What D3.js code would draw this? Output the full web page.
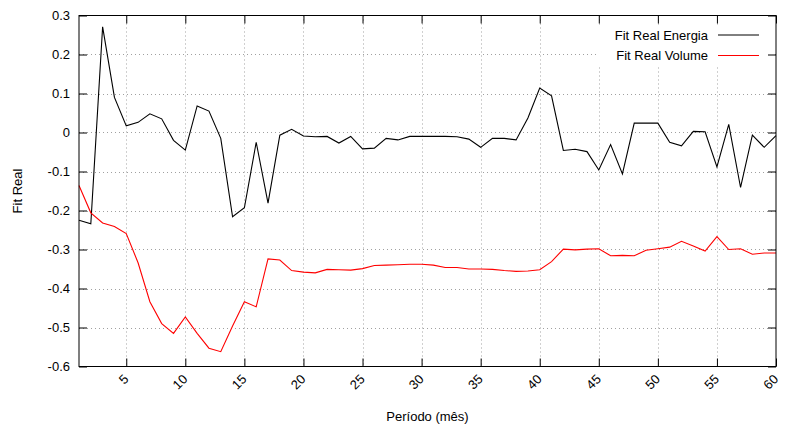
<!DOCTYPE html>
<html><head><meta charset="utf-8">
<script src="https://cdn.jsdelivr.net/npm/d3@7"></script>
<style>
body{margin:0;background:#fff;}
text{font-family:"Liberation Sans",Arial,Helvetica,sans-serif;font-size:13px;fill:#000;}
</style></head>
<body><svg id="c" width="787" height="428"></svg>
<script>
const periods = d3.range(1, 61);
const energia = [-0.225,-0.234,0.271,0.090,0.017,0.026,0.048,0.035,-0.020,-0.045,
 0.068,0.055,-0.015,-0.216,-0.193,-0.025,-0.181,-0.007,0.008,-0.009,
 -0.011,-0.010,-0.027,-0.010,-0.042,-0.040,-0.015,-0.019,-0.010,-0.010,
 -0.010,-0.010,-0.011,-0.017,-0.038,-0.015,-0.015,-0.019,0.037,0.114,
 0.094,-0.046,-0.043,-0.049,-0.096,-0.031,-0.106,0.024,0.024,0.024,
 -0.025,-0.034,0.003,0.002,-0.088,0.021,-0.141,-0.007,-0.038,-0.008];
const volume = [-0.136,-0.206,-0.232,-0.241,-0.259,-0.334,-0.434,-0.490,-0.515,-0.473,
 -0.515,-0.553,-0.562,-0.496,-0.434,-0.447,-0.324,-0.327,-0.354,-0.358,
 -0.360,-0.351,-0.352,-0.353,-0.349,-0.341,-0.340,-0.339,-0.338,-0.338,
 -0.340,-0.346,-0.346,-0.350,-0.350,-0.351,-0.354,-0.356,-0.355,-0.352,
 -0.331,-0.299,-0.301,-0.299,-0.298,-0.316,-0.315,-0.316,-0.302,-0.298,
 -0.294,-0.279,-0.291,-0.304,-0.267,-0.300,-0.298,-0.312,-0.309,-0.309];
const xTicks = [5,10,15,20,25,30,35,40,45,50,55,60];
const yTicks = [-0.6,-0.5,-0.4,-0.3,-0.2,-0.1,0,0.1,0.2,0.3];
const seriesNames = ["Fit Real Energia","Fit Real Volume"];
const seriesColors = ["#000000","#ff0000"];
const xTitle = "Período (mês)", yTitle = "Fit Real";

const L=79, R=776, T=15.5, B=366.5, TL=8;
const svg = d3.select("#c");
const x = d3.scaleLinear().domain([1,60]).range([L,R]);
const y = d3.scaleLinear().domain([-0.6,0.3]).range([B,T]);
const fmt = v => Math.abs(v)<1e-9 ? "0" : d3.format(".1f")(v).replace("\u2212","-");

// grid
const g = svg.append("g");
g.selectAll("line.gx").data(xTicks.filter(v=>v<60)).join("line")
 .attr("x1",d=>Math.round(x(d))+0.5).attr("x2",d=>Math.round(x(d))+0.5)
 .attr("y1",T).attr("y2",B).attr("stroke","#a0a0a0").attr("stroke-dasharray","1,3");
g.selectAll("line.gy").data(yTicks.filter(v=>v>-0.6&&v<0.3)).join("line")
 .attr("y1",d=>Math.round(y(d))+0.5).attr("y2",d=>Math.round(y(d))+0.5)
 .attr("x1",L).attr("x2",R).attr("stroke","#a0a0a0").attr("stroke-dasharray","1,3");

// legend background (opaque)
svg.append("rect").attr("x",598).attr("y",25).attr("width",R-598-1).attr("height",42).attr("fill","#fff");

// axes (ticks inward)
const axB = d3.axisBottom(x).tickValues(xTicks).tickSize(-TL).tickFormat("");
const axT = d3.axisTop(x).tickValues(xTicks).tickSize(-TL).tickFormat("");
const axL = d3.axisLeft(y).tickValues(yTicks).tickSize(-TL).tickFormat(fmt).tickPadding(TL+1);
const axR = d3.axisRight(y).tickValues(yTicks).tickSize(-TL).tickFormat("");
function style(s){ s.select(".domain").remove(); s.selectAll("line").attr("stroke","#000"); s.selectAll("text").attr("font-size",13).attr("font-family","Liberation Sans, Arial, sans-serif").attr("fill","#000"); }
svg.append("g").attr("transform",`translate(0,${B})`).call(axB).call(style);
svg.append("g").attr("transform",`translate(0,${T})`).call(axT).call(style);
svg.append("g").attr("transform",`translate(${L},0)`).call(axL).call(style);
svg.append("g").attr("transform",`translate(${R},0)`).call(axR).call(style);

// rotated x tick labels
svg.append("g").selectAll("text").data(xTicks).join("text")
 .attr("text-anchor","end")
 .attr("transform",d=>`translate(${x(d)+3},380) rotate(-45)`)
 .text(d=>d);

// lines
const line = d3.line().x((d,i)=>x(periods[i])).y(d=>y(d));
[energia, volume].forEach((s,k)=>{
  svg.append("path").datum(s).attr("d",line).attr("fill","none")
   .attr("stroke",seriesColors[k]).attr("stroke-width",1.1).attr("stroke-linejoin","miter");
});

// frame
svg.append("rect").attr("x",L).attr("y",T).attr("width",R-L).attr("height",B-T)
 .attr("fill","none").attr("stroke","#000").attr("stroke-width",1);

// legend
seriesNames.forEach((n,k)=>{
  const ly = 35 + k*20.5;
  svg.append("text").attr("x",708).attr("y",ly).attr("dy","0.35em").attr("text-anchor","end").text(n);
  svg.append("line").attr("x1",718).attr("x2",759).attr("y1",ly).attr("y2",ly).attr("stroke",seriesColors[k]).attr("stroke-width",1);
});

// titles
svg.append("text").attr("x",(L+R)/2).attr("y",421).attr("text-anchor","middle").text(xTitle);
svg.append("text").attr("transform",`translate(22,${(T+B)/2}) rotate(-90)`).attr("text-anchor","middle").text(yTitle);
</script></body></html>
